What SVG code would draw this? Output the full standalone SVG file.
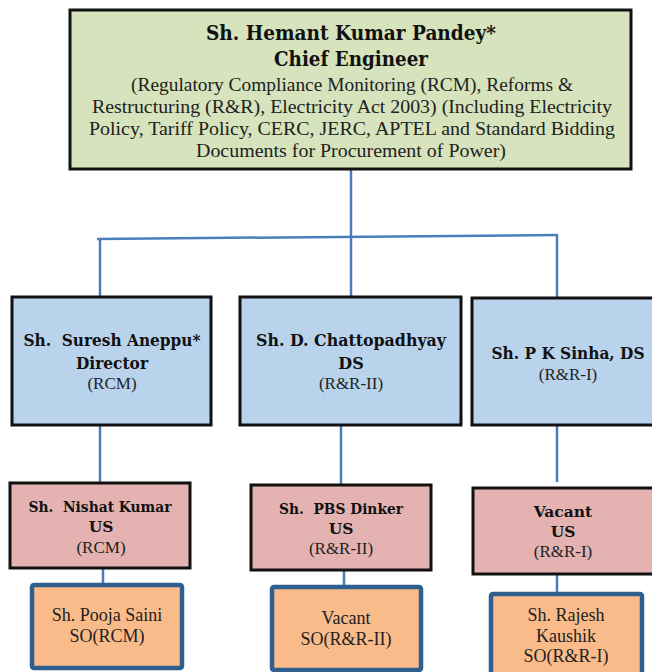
<svg xmlns="http://www.w3.org/2000/svg" width="652" height="672" viewBox="0 0 652 672">
  <style>
    .b { font-family: "DejaVu Serif", "Liberation Serif", serif; font-weight: bold; fill: #111; text-anchor: middle; white-space: pre; }
    .r { font-family: "Liberation Serif", "DejaVu Serif", serif; fill: #222; text-anchor: middle; }
    .ce { fill: #d6e3bc; stroke: #111; stroke-width: 3; }
    .dir { fill: #b9d3ed; stroke: #111; stroke-width: 3; }
    .us { fill: #e4b2b1; stroke: #111; stroke-width: 3; }
    .so { fill: #f9bb8a; stroke: #2f5f8f; stroke-width: 4.5; }
    .ln { stroke: #4a7ebb; stroke-width: 2.5; fill: none; }
  </style>
  <rect width="652" height="672" fill="#fff"/>

  <g id="connectors">
    <line class="ln" x1="351" y1="169" x2="351" y2="297"/>
    <line class="ln" x1="97" y1="239" x2="558" y2="235"/>
    <line class="ln" x1="100" y1="239" x2="100" y2="297"/>
    <line class="ln" x1="557" y1="235" x2="557" y2="299"/>
    <line class="ln" x1="100" y1="425" x2="100" y2="483"/>
    <line class="ln" x1="341" y1="425" x2="341" y2="485"/>
    <line class="ln" x1="557" y1="425" x2="557" y2="482"/>
    <line class="ln" x1="103" y1="568" x2="103" y2="584"/>
    <line class="ln" x1="344" y1="570" x2="344" y2="586"/>
    <line class="ln" x1="557" y1="574" x2="557" y2="593"/>
  </g>

  <g id="chief-engineer">
    <rect class="ce" x="70" y="10" width="561" height="159"/>
    <text class="b" x="351" y="40" font-size="19.5" textLength="290" lengthAdjust="spacingAndGlyphs">Sh. Hemant Kumar Pandey*</text>
    <text class="b" x="351" y="66" font-size="19.5" textLength="154" lengthAdjust="spacingAndGlyphs">Chief Engineer</text>
    <text class="r" x="352" y="91" font-size="18" textLength="442" lengthAdjust="spacingAndGlyphs">(Regulatory Compliance Monitoring (RCM), Reforms &amp;</text>
    <text class="r" x="352" y="113" font-size="18" textLength="520" lengthAdjust="spacingAndGlyphs">Restructuring (R&amp;R), Electricity Act 2003) (Including Electricity</text>
    <text class="r" x="352" y="135" font-size="18" textLength="526" lengthAdjust="spacingAndGlyphs">Policy, Tariff Policy, CERC, JERC, APTEL and Standard Bidding</text>
    <text class="r" x="351" y="157" font-size="18" textLength="310" lengthAdjust="spacingAndGlyphs">Documents for Procurement of Power)</text>
  </g>

  <g id="director-rcm">
    <rect class="dir" x="12" y="297" width="199" height="128"/>
    <text class="b" x="112" y="346" font-size="16" textLength="177" lengthAdjust="spacingAndGlyphs">Sh.  Suresh Aneppu*</text>
    <text class="b" x="112" y="369" font-size="16" textLength="72" lengthAdjust="spacingAndGlyphs">Director</text>
    <text class="r" x="112" y="389" font-size="17">(RCM)</text>
  </g>

  <g id="ds-rr2">
    <rect class="dir" x="240" y="297" width="221" height="128"/>
    <text class="b" x="351" y="346" font-size="16" textLength="190" lengthAdjust="spacingAndGlyphs">Sh. D. Chattopadhyay</text>
    <text class="b" x="351" y="369" font-size="16">DS</text>
    <text class="r" x="351" y="389" font-size="17">(R&amp;R-II)</text>
  </g>

  <g id="ds-rr1">
    <rect class="dir" x="472" y="298" width="190" height="127"/>
    <text class="b" x="568" y="359" font-size="16" textLength="153" lengthAdjust="spacingAndGlyphs">Sh. P K Sinha, DS</text>
    <text class="r" x="568" y="380" font-size="17">(R&amp;R-I)</text>
  </g>

  <g id="us-rcm">
    <rect class="us" x="10" y="483" width="180" height="85"/>
    <text class="b" x="100" y="512" font-size="15.5" textLength="143" lengthAdjust="spacingAndGlyphs">Sh.  Nishat Kumar</text>
    <text class="b" x="101" y="532" font-size="15.5">US</text>
    <text class="r" x="101" y="553" font-size="17">(RCM)</text>
  </g>

  <g id="us-rr2">
    <rect class="us" x="251" y="485" width="180" height="85"/>
    <text class="b" x="341" y="514" font-size="15.5" textLength="124" lengthAdjust="spacingAndGlyphs">Sh.  PBS Dinker</text>
    <text class="b" x="341" y="534" font-size="15.5">US</text>
    <text class="r" x="341" y="554" font-size="17">(R&amp;R-II)</text>
  </g>

  <g id="us-rr1">
    <rect class="us" x="473" y="488" width="190" height="86"/>
    <text class="b" x="563" y="517" font-size="15.5">Vacant</text>
    <text class="b" x="563" y="537" font-size="15.5">US</text>
    <text class="r" x="563" y="557" font-size="17">(R&amp;R-I)</text>
  </g>

  <g id="so-rcm">
    <rect class="so" x="32" y="585" width="150" height="83" rx="2"/>
    <text class="r" x="107" y="621" font-size="18">Sh. Pooja Saini</text>
    <text class="r" x="107" y="642" font-size="18">SO(RCM)</text>
  </g>

  <g id="so-rr2">
    <rect class="so" x="272" y="587" width="149" height="83" rx="2"/>
    <text class="r" x="346" y="624" font-size="18">Vacant</text>
    <text class="r" x="346" y="645" font-size="18">SO(R&amp;R-II)</text>
  </g>

  <g id="so-rr1">
    <rect class="so" x="491" y="594" width="151" height="85" rx="2"/>
    <text class="r" x="566" y="621" font-size="18">Sh. Rajesh</text>
    <text class="r" x="566" y="642" font-size="18">Kaushik</text>
    <text class="r" x="566" y="662" font-size="18">SO(R&amp;R-I)</text>
  </g>
</svg>
